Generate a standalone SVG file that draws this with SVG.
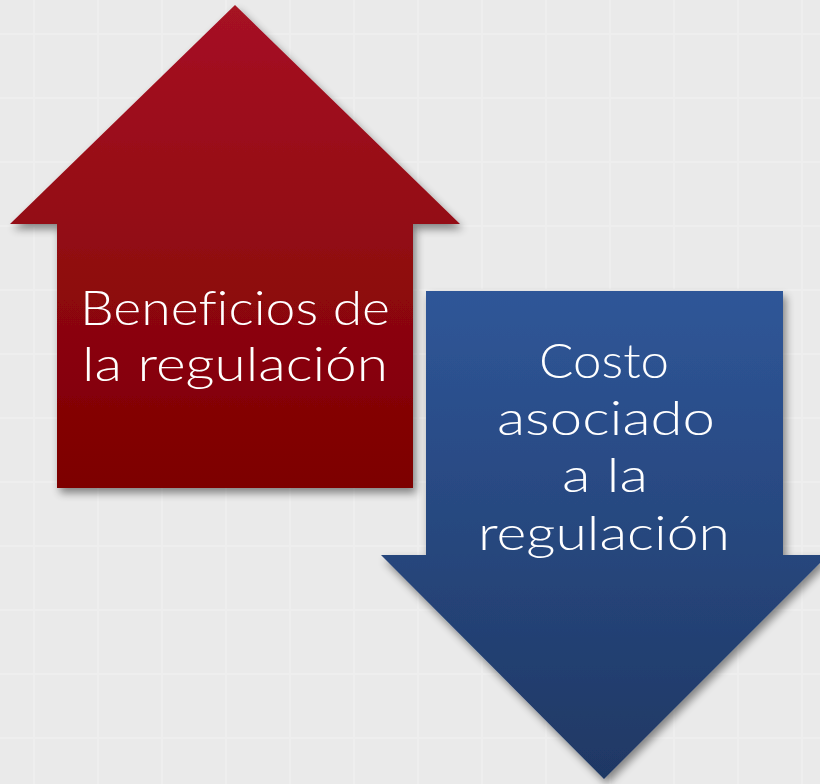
<svg xmlns="http://www.w3.org/2000/svg" width="820" height="784" viewBox="0 0 820 784">
  <defs>
    <pattern id="bg" width="64" height="64" patternUnits="userSpaceOnUse" x="1" y="1">
      <rect width="64" height="64" fill="#EAEAEA"/>
      <rect x="32" y="0" width="2" height="64" fill="#EEEEEE"/>
      <rect x="0" y="32" width="64" height="2" fill="#EEEEEE"/>
    </pattern>
    <linearGradient id="red" x1="0" y1="0" x2="0" y2="1">
      <stop offset="0" stop-color="#A61224"/>
      <stop offset="1" stop-color="#7D0000"/>
    </linearGradient>
    <linearGradient id="blue" x1="0" y1="0" x2="0" y2="1">
      <stop offset="0" stop-color="#2F5698"/>
      <stop offset="1" stop-color="#1F3864"/>
    </linearGradient>
    <filter id="shadow" x="-10%" y="-10%" width="125%" height="125%">
      <feGaussianBlur in="SourceAlpha" stdDeviation="4"/>
      <feOffset dx="3" dy="5" result="b"/>
      <feComponentTransfer><feFuncA type="linear" slope="0.45"/></feComponentTransfer>
      <feMerge><feMergeNode/><feMergeNode in="SourceGraphic"/></feMerge>
    </filter>
    <style>
      .lbl { font-family: "Lato", "Liberation Sans", "DejaVu Sans", sans-serif; font-weight: 300; font-size: 48px; fill: #FFFFFF; text-anchor: middle; font-variant-ligatures: none; font-feature-settings: "liga" 0; }
    </style>
  </defs>
  <rect width="820" height="784" fill="url(#bg)"/>
  <g id="up-arrow" filter="url(#shadow)">
    <polygon points="235,5 460,224 413,224 413,488 57,488 57,224 10,224" fill="url(#red)"/>
    <text class="lbl" x="235" y="325" textLength="310" lengthAdjust="spacingAndGlyphs">Beneficios de</text>
    <text class="lbl" x="235" y="381" textLength="306" lengthAdjust="spacingAndGlyphs">la regulación</text>
  </g>
  <g id="down-arrow" filter="url(#shadow)">
    <polygon points="426,291 783,291 783,555 828,555 604,779 381,555 426,555" fill="url(#blue)"/>
    <text class="lbl" x="604" y="378" textLength="130" lengthAdjust="spacingAndGlyphs">Costo</text>
    <text class="lbl" x="606" y="435" textLength="218" lengthAdjust="spacingAndGlyphs">asociado</text>
    <text class="lbl" x="605" y="492" textLength="86" lengthAdjust="spacingAndGlyphs">a la</text>
    <text class="lbl" x="604" y="550" textLength="252" lengthAdjust="spacingAndGlyphs">regulación</text>
  </g>
  <g id="connectors"/>
</svg>
